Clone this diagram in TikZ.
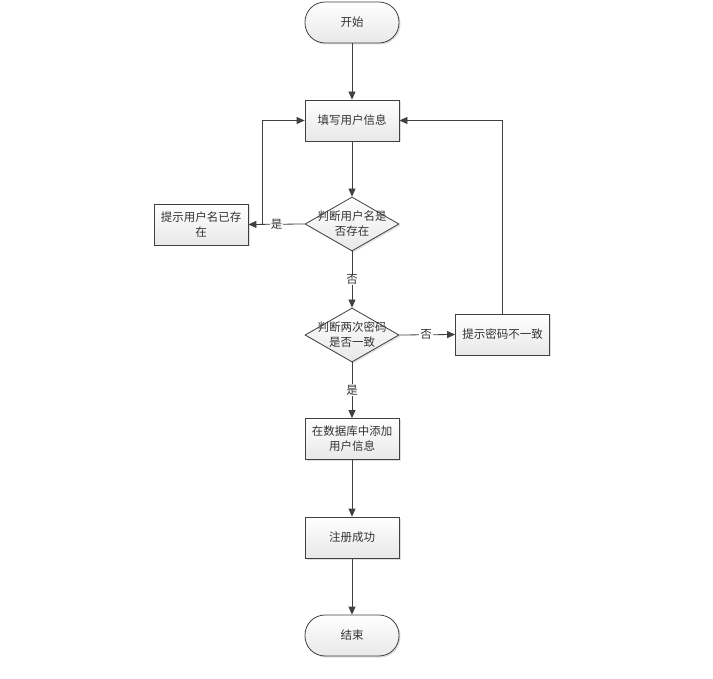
\documentclass[tikz,border=0pt]{standalone}
\usepackage{fontspec}
\setmainfont{Noto Sans CJK SC}
\usetikzlibrary{arrows.meta,shapes.geometric,shadows}
\definecolor{lc}{HTML}{404040}
\definecolor{tc}{HTML}{333333}
\begin{document}
\begin{tikzpicture}[x=1pt,y=-1pt,
  font=\fontsize{11.5}{15}\selectfont, text=tc,
  base/.style={draw=lc, line width=0.8pt, top color=white, bottom color=gray!18,
     drop shadow={shadow xshift=1.5pt, shadow yshift=-1.5pt, opacity=0.25}},
  procbox/.style={base, rectangle, minimum width=94pt, minimum height=41pt, inner sep=0pt, align=center},
  termbox/.style={base, rectangle, rounded corners=20pt, minimum width=94pt, minimum height=41pt, inner sep=0pt},
  decbox/.style={base, diamond, minimum width=94pt, minimum height=54pt, inner sep=0pt},
  txt/.style={align=center, inner sep=0pt},
  lab/.style={fill=white, inner sep=1pt},
  conn/.style={draw=lc, line width=0.8pt, -{Triangle[length=8pt,width=7pt]}}
]
\useasboundingbox (0,0) rectangle (713,679);
\node[termbox] (start) at (352,22.5) {开始};
\node[procbox] (fill) at (352,120.5) {填写用户信息};
\node[decbox] (d1) at (352,224) {};
\node[txt] (d1t) at (352,224) {判断用户名是\\否存在};
\node[procbox] (exist) at (201,224.5) {提示用户名已存\\在};
\node[decbox] (d2) at (352,335) {};
\node[txt] (d2t) at (352,335) {判断两次密码\\是否一致};
\node[procbox] (mis) at (502.5,334.5) {提示密码不一致};
\node[procbox] (add) at (352,439) {在数据库中添加\\用户信息};
\node[procbox] (ok) at (352,537.5) {注册成功};
\node[termbox] (end) at (352,635.5) {结束};

\draw[conn] (start) -- (fill);
\draw[conn] (fill) -- (d1);
\draw[conn] (d1.west) -- (exist.east) node[lab, pos=0.5] (l1) {是};
\draw[conn] (exist.east) -- ++(14,0) |- (fill.west);
\draw[conn] (d1) -- (d2) node[lab, pos=0.5] (l2) {否};
\draw[conn] (d2.east) -- (mis.west) node[lab, pos=0.48] (l3) {否};
\draw[conn] (mis.north) |- (fill.east);
\draw[conn] (d2) -- (add) node[lab, pos=0.5] (l4) {是};
\draw[conn] (add) -- (ok);
\draw[conn] (ok) -- (end);
\end{tikzpicture}
\end{document}
